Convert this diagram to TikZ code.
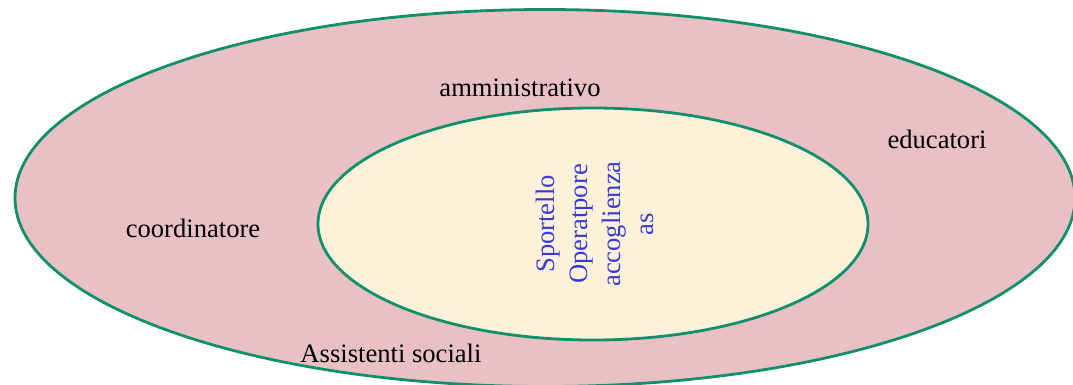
\documentclass[tikz,border=0pt]{standalone}
\usepackage{fontspec}
\setmainfont{Liberation Serif}
\usetikzlibrary{shapes.geometric}
\definecolor{outerfill}{HTML}{E9C1C5}
\definecolor{innerfill}{HTML}{FCF2DA}
\definecolor{ringgreen}{HTML}{10906A}
\definecolor{labelblue}{HTML}{3A3AD6}
\tikzset{
  ring/.style={ellipse, draw=ringgreen, line width=2.8pt, inner sep=0pt},
  lbl/.style={font=\fontsize{26.6}{30}\selectfont, text=black, inner sep=0pt},
  centerlbl/.style={font=\fontsize{26.6}{33}\selectfont, text=labelblue, align=center, rotate=90, inner sep=0pt}
}
\begin{document}
\begin{tikzpicture}[x=1pt,y=-1pt]
\useasboundingbox (0,0) rectangle (1073,384);
\clip (0,0) rectangle (1073,384);
\node[ring, fill=outerfill, minimum width=1060pt, minimum height=377pt] (outer) at (545,198) {};
\node[ring, fill=innerfill, minimum width=550pt, minimum height=232pt] (inner) at (593,224) {};
\node[lbl] (amm) at (520,88) {amministrativo};
\node[lbl] (edu) at (937,139) {educatori};
\node[lbl] (coo) at (193,228) {coordinatore};
\node[lbl] (ass) at (391,353) {Assistenti sociali};
\node[centerlbl] (spo) at (595,224) {Sportello\\Operatpore\\accoglienza\\as};
\end{tikzpicture}
\end{document}
